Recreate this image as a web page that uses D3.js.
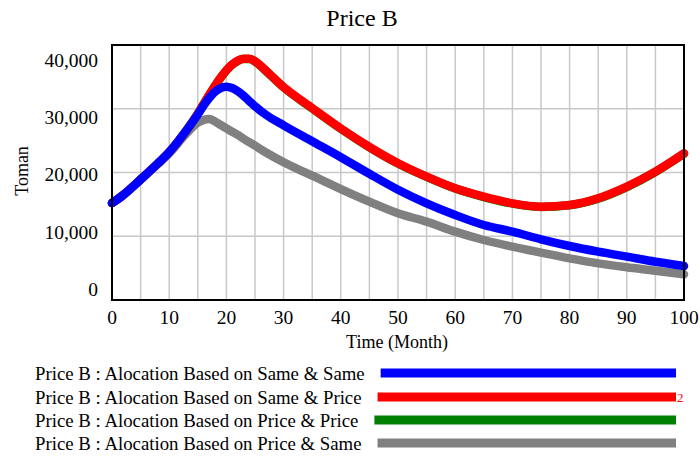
<!DOCTYPE html>
<html>
<head>
<meta charset="utf-8">
<script src="https://cdn.jsdelivr.net/npm/d3@7/dist/d3.min.js"></script>
<style>
  html, body { margin: 0; padding: 0; background: #fff; }
  svg { display: block; }
  text { font-family: "Liberation Serif", "Times New Roman", serif; fill: #000; }
</style>
</head>
<body>
<svg id="chart" width="700" height="457"></svg>
<script>
const title = "Price B";
const yLabel = "Toman";
const xLabel = "Time (Month)";
const times      = [0,2,5,8,10,13,15,16,17,18,19,20,21,22,23,24,25,27,30,35,40,45,50,55,60,65,70,75,80,85,90,95,100];
const sameSame   = [15200,16500,18900,21400,23200,26600,29100,30500,31700,32650,33250,33450,33250,32750,32050,31200,30400,29000,27400,24900,22400,19800,17300,15160,13330,11760,10720,9520,8470,7580,6800,6010,5330];
const samePrice  = [15200,16500,18900,21400,23200,26600,29200,30700,32200,33600,34900,36050,36950,37550,37850,37850,37450,35900,33400,30100,26900,24000,21450,19350,17520,16200,15160,14640,14900,15950,17780,20130,23000];
const pricePrice = [15200,16500,18900,21400,23200,26600,29200,30700,32150,33550,34850,36000,36900,37500,37800,37800,37400,35850,33350,30050,26850,23950,21400,19300,17480,16150,15120,14600,14860,15900,17720,20080,22950];
const priceSame  = [15200,16500,18900,21300,23000,26100,27800,28250,28400,28000,27450,26930,26400,25900,25300,24750,24200,23100,21600,19500,17400,15420,13600,12290,10720,9410,8370,7430,6540,5750,5130,4600,4030];
const xTicks = [0,10,20,30,40,50,60,70,80,90,100];
const yTicks = [0,10000,20000,30000,40000];
const seriesNames = [
  "Price B : Alocation Based on Same & Same",
  "Price B : Alocation Based on Same & Price",
  "Price B : Alocation Based on Price & Price",
  "Price B : Alocation Based on Price & Same"
];
const seriesColors = ["#0000ff", "#ff0000", "#008000", "#808080"];
const seriesValues = [sameSame, samePrice, pricePrice, priceSame];

const svg = d3.select("#chart");
const L = 112, R = 684, T = 45, B = 300;
const x = d3.scaleLinear().domain([0, 100]).range([L, R]);
const y = d3.scaleLinear().domain([0, 40000]).range([B, T]);
const yLab = d3.scaleLinear().domain([0, 40000]).range([289, 60]);

// grid
const g = svg.append("g");
g.selectAll("line.vg").data(d3.range(5, 100, 5)).enter().append("line")
  .attr("x1", d => x(d)).attr("x2", d => x(d)).attr("y1", T).attr("y2", B)
  .attr("stroke", "#c8c8c8").attr("stroke-width", 1.5);
g.selectAll("line.hg").data([10000, 20000, 30000]).enter().append("line")
  .attr("x1", L).attr("x2", R).attr("y1", d => y(d)).attr("y2", d => y(d))
  .attr("stroke", "#c8c8c8").attr("stroke-width", 1.5);

// lines
const line = d3.line().curve(d3.curveMonotoneX);
const order = [3, 2, 1, 0];
order.forEach(i => {
  svg.append("path")
    .datum(times.map((t, k) => [x(t), y(seriesValues[i][k])]))
    .attr("d", line)
    .attr("fill", "none")
    .attr("stroke", seriesColors[i])
    .attr("stroke-width", 8.5)
    .attr("stroke-linecap", "round")
    .attr("stroke-linejoin", "round");
});

// frame
svg.append("rect").attr("x", L).attr("y", T).attr("width", R - L).attr("height", B - T)
  .attr("fill", "none").attr("stroke", "#000").attr("stroke-width", 2);

// y tick labels
svg.selectAll("text.yt").data(yTicks).enter().append("text")
  .attr("x", 98).attr("y", d => yLab(d)).attr("dy", "0.35em")
  .attr("text-anchor", "end").attr("font-size", 19.5)
  .text(d => d3.format(",")(d));

// x tick labels
svg.selectAll("text.xt").data(xTicks).enter().append("text")
  .attr("x", d => x(d)).attr("y", 324)
  .attr("text-anchor", "middle").attr("font-size", 19.5)
  .text(d => d);

// axis titles
svg.append("text").attr("x", 397).attr("y", 348).attr("text-anchor", "middle")
  .attr("font-size", 18).text(xLabel);
svg.append("text").attr("transform", "translate(28,171) rotate(-90)")
  .attr("text-anchor", "middle").attr("font-size", 18).text(yLabel);
svg.append("text").attr("x", 362).attr("y", 26).attr("text-anchor", "middle")
  .attr("font-size", 24).text(title);

// legend
const rowY = [373, 397, 420, 443];
seriesNames.forEach((name, i) => {
  const t = svg.append("text").attr("x", 35).attr("y", rowY[i]).attr("dy", "0.35em")
    .attr("font-size", 18.8).text(name);
  const w = t.node().getComputedTextLength();
  svg.append("line").attr("x1", 35 + w + 16).attr("x2", 676)
    .attr("y1", rowY[i]).attr("y2", rowY[i])
    .attr("stroke", seriesColors[i]).attr("stroke-width", 9);
});
svg.append("text").attr("x", 677).attr("y", rowY[1] + 5).attr("font-size", 13)
  .style("fill", "#ff0000").text("2");
</script>
</body>
</html>
